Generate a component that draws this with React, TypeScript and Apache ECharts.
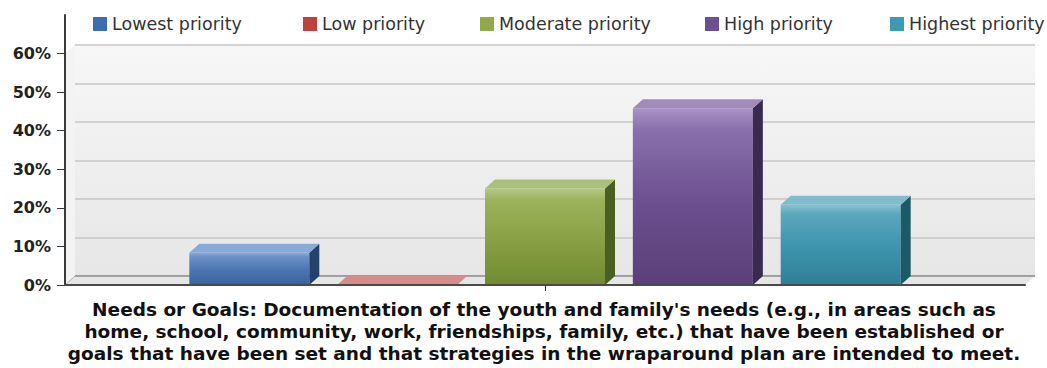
import React, { useEffect, useRef } from 'react';
import * as echarts from 'echarts';

const categories = ['Needs or Goals'];
const seriesNames = ['Lowest priority', 'Low priority', 'Moderate priority', 'High priority', 'Highest priority'];
const seriesValues = [8.33, 0, 25, 45.83, 20.83];
const yTickValues = [0, 10, 20, 30, 40, 50, 60];
const titleLines = [
  "Needs or Goals: Documentation of the youth and family's needs (e.g., in areas such as",
  'home, school, community, work, friendships, family, etc.) that have been established or',
  'goals that have been set and that strategies in the wraparound plan are intended to meet.',
];

const palette = [
  { legend: '#3d6cb0', front: ['#8aaad6', '#6c91c7', '#4a74b0', '#3a619e'], top: '#88aad8', side: '#22416c' },
  { legend: '#bd413d', front: ['#d98a88', '#c25a56', '#b0403c', '#9a3431'], top: '#d88c8a', side: '#6e2422' },
  { legend: '#92a84a', front: ['#b4c884', '#9cb25c', '#88a042', '#6f8a30'], top: '#abc07a', side: '#4a5f22' },
  { legend: '#6c4f90', front: ['#a994c4', '#8a70ac', '#6a4e8e', '#5a4079'], top: '#a08bbb', side: '#392a50' },
  { legend: '#3c9ab4', front: ['#88c2d2', '#5aa7bd', '#3d93ac', '#2f7f96'], top: '#80bccb', side: '#1d5a68' },
];
const legendLeft = [93, 303, 480, 705, 890];

const DX = 10;
const DY = 9;
const PITCH = 0.154;
const WIDTH = 0.125;

export default function App() {
  const ref = useRef<HTMLDivElement>(null);
  useEffect(() => {
    if (!ref.current) return;
    const chart = echarts.init(ref.current, undefined, { renderer: 'svg' });
    const n = seriesNames.length;

    const barSeries = seriesNames.map((name, i) => ({
      type: 'custom',
      name,
      xAxisIndex: 1,
      yAxisIndex: 1,
      z: 3,
      itemStyle: { color: palette[i].legend },
      data: [[0, seriesValues[i]]],
      renderItem: (params: any, api: any) => {
        const v = api.value(1) as number;
        const base = api.coord([api.value(0), 0]);
        const top = api.coord([api.value(0), v]);
        const band = api.size([1, 0])[0];
        const pitch = band * PITCH;
        const w = band * WIDTH;
        const cx = base[0] + (i - (n - 1) / 2) * pitch;
        const x0 = cx - w / 2;
        const x1 = cx + w / 2;
        const yb = base[1];
        const yt = top[1];
        const p = palette[i];
        const children: any[] = [];
        if (yb - yt > 0.5) {
          children.push({
            type: 'rect',
            shape: { x: x0, y: yt, width: w, height: yb - yt },
            style: {
              fill: {
                type: 'linear', x: 0, y: 0, x2: 0, y2: 1,
                colorStops: [
                  { offset: 0, color: p.front[0] },
                  { offset: 0.12, color: p.front[1] },
                  { offset: 0.55, color: p.front[2] },
                  { offset: 1, color: p.front[3] },
                ],
              },
            },
          });
          children.push({
            type: 'polygon',
            shape: { points: [[x1, yt], [x1 + DX, yt - DY], [x1 + DX, yb - DY], [x1, yb]] },
            style: { fill: p.side },
          });
        }
        children.push({
          type: 'polygon',
          shape: { points: [[x0, yt], [x0 + DX, yt - DY], [x1 + DX, yt - DY], [x1, yt]] },
          style: { fill: p.top },
        });
        return { type: 'group', children };
      },
    }));

    const floorSeries = {
      type: 'custom',
      name: 'floor',
      xAxisIndex: 1,
      yAxisIndex: 1,
      z: 1,
      silent: true,
      data: [[0, 0]],
      renderItem: (params: any, api: any) => {
        const cs = params.coordSys;
        const b = api.coord([0, 0])[1];
        const t = api.coord([0, yTickValues[yTickValues.length - 1]])[1];
        const x = cs.x;
        const r = cs.x + cs.width;
        return {
          type: 'group',
          children: [
            { type: 'polygon', shape: { points: [[x, t], [x + DX, t - DY], [x + DX, b - DY], [x, b]] }, style: { fill: '#f3f3f3' } },
            { type: 'polygon', shape: { points: [[x, b], [x + DX, b - DY], [r + DX, b - DY], [r, b]] }, style: { fill: '#e6e6e6' } },
            { type: 'line', shape: { x1: x, y1: b, x2: x + DX, y2: b - DY }, style: { stroke: '#b0b0b0', lineWidth: 1 } },
            { type: 'line', shape: { x1: x + DX, y1: b - DY, x2: r + DX, y2: b - DY }, style: { stroke: '#8c8c8c', lineWidth: 1.5 } },
          ],
        };
      },
    };

    const option: any = {
      animation: false,
      backgroundColor: '#ffffff',
      legend: seriesNames.map((name, i) => ({
        data: [name],
        left: legendLeft[i],
        top: 15,
        itemWidth: 14,
        itemHeight: 14,
        icon: 'rect',
        padding: 0,
        textStyle: { fontFamily: 'DejaVu Sans', fontSize: 17.5, color: '#333333' },
        selectedMode: false,
      })),
      grid: [
        {
          left: 75, right: 12, top: 45, bottom: 92,
          show: true,
          borderWidth: 0,
          backgroundColor: {
            type: 'linear', x: 0, y: 0, x2: 0, y2: 1,
            colorStops: [
              { offset: 0, color: '#f7f7f7' },
              { offset: 1, color: '#e6e6e6' },
            ],
          },
        },
        { left: 65, right: 22, top: 15, bottom: 83 },
      ],
      xAxis: [
        { type: 'category', gridIndex: 0, data: categories, show: false },
        {
          type: 'category', gridIndex: 1, data: categories, z: 5,
          axisLine: { show: true, lineStyle: { color: '#4a4a4a', width: 2 } },
          axisTick: { show: true, alignWithLabel: true, length: 6, lineStyle: { color: '#333333' } },
          axisLabel: { show: false },
          splitLine: { show: false },
        },
      ],
      yAxis: [
        {
          type: 'value', gridIndex: 0, min: 0, max: 60, interval: 10,
          axisLine: { show: false }, axisTick: { show: false }, axisLabel: { show: false },
          splitLine: { show: true, lineStyle: { color: '#c6c6c6', width: 1.5 } },
        },
        {
          type: 'value', gridIndex: 1, min: 0, max: 70, interval: 10, z: 5,
          axisLine: { show: true, lineStyle: { color: '#3a3a3a', width: 2 } },
          axisTick: { show: true, length: 8, customValues: yTickValues, lineStyle: { color: '#3a3a3a' } },
          axisLabel: {
            customValues: yTickValues,
            formatter: '{value}%',
            fontFamily: 'DejaVu Sans', fontWeight: 'bold', fontSize: 16, color: '#222222', margin: 14,
          },
          splitLine: { show: false },
        },
      ],
      graphic: [
        {
          type: 'text',
          x: 544,
          y: 298,
          style: {
            text: titleLines.join('\n'),
            textAlign: 'center',
            textVerticalAlign: 'top',
            fontFamily: 'DejaVu Sans',
            fontWeight: 'bold',
            fontSize: 18.5,
            lineHeight: 22,
            fill: '#111111',
          },
        },
      ],
      series: [floorSeries, ...barSeries],
    };
    chart.setOption(option);
    return () => chart.dispose();
  }, []);
  return <div ref={ref} style={{ position: 'fixed', left: 0, top: 0, width: 1047, height: 368 }} />;
}
